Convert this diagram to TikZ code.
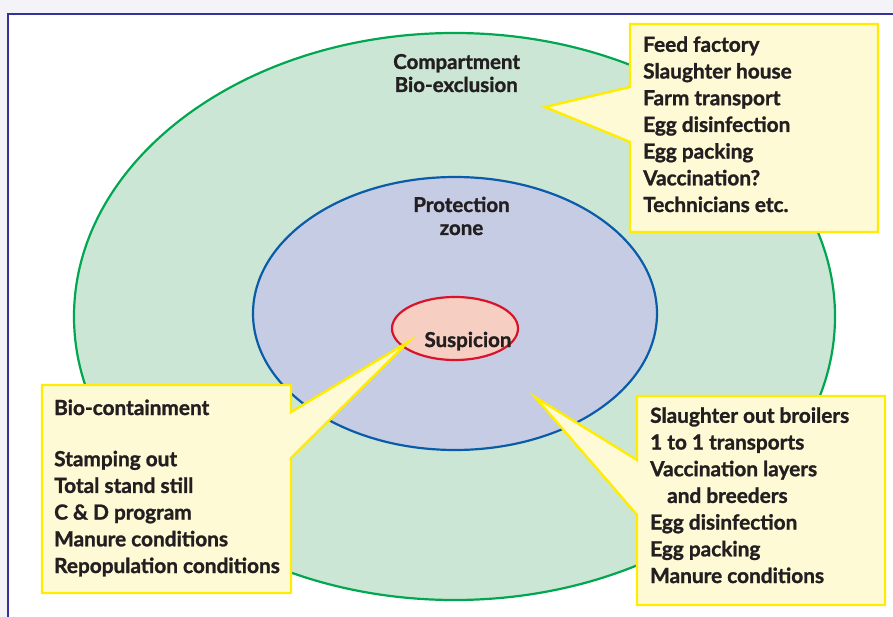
\documentclass[tikz,border=0pt]{standalone}
\usepackage{fontspec}
\setmainfont{Lato}[BoldFeatures={FakeBold=1.3}]
\usetikzlibrary{shapes.geometric}
\definecolor{pagebg}{HTML}{F3F3F8}
\definecolor{framecol}{HTML}{33339A}
\definecolor{outerfill}{HTML}{CCE6D5}
\definecolor{outerline}{HTML}{00A650}
\definecolor{midfill}{HTML}{C5CCE3}
\definecolor{midline}{HTML}{0A5CA8}
\definecolor{innerfill}{HTML}{F6CFC2}
\definecolor{innerline}{HTML}{D9142A}
\definecolor{callfill}{HTML}{FFFAD6}
\definecolor{callline}{HTML}{FFEC00}
\definecolor{txt}{HTML}{231F20}
\begin{document}
\begin{tikzpicture}[x=1pt,y=-1pt,
  zone/.style={ellipse,inner sep=0pt,line width=2.2pt},
  callout/.style={fill=callfill,draw=callline,line width=2.4pt,line join=miter},
  bodytext/.style={font=\bfseries\fontsize{20.8}{26.7}\selectfont,text=txt,align=left,inner sep=0pt,anchor=base west},
  title/.style={font=\bfseries\fontsize{20.5}{23}\selectfont,text=txt,inner sep=0pt,anchor=base}
]
\useasboundingbox (0,0) rectangle (893,617);
\fill[pagebg] (0,0) rectangle (893,617);
\fill[white] (7.8,13.8) rectangle (900,630);
\draw[framecol,line width=1.6pt] (7.8,640) -- (7.8,13.8) -- (920,13.8);

\node[zone,fill=outerfill,draw=outerline,minimum width=761pt,minimum height=567pt] (outer) at (454.5,316.5) {};
\node[zone,fill=midfill,draw=midline,minimum width=404pt,minimum height=273pt] (mid) at (455,313.5) {};
\node[zone,fill=innerfill,draw=innerline,minimum width=126pt,minimum height=63pt] (inner) at (455,328.5) {};

\node[title,align=left,anchor=base west] (comp) at (393,92) {Compartment\\\hspace*{1.5pt}Bio-exclusion};
\node[title,align=center] (prot) at (461.5,235) {Protection\\zone};
\node[title] (susp) at (468,347) {Suspicion};

% top right callout
\coordinate (trtip) at (545,107);
\draw[callout] (630,24) -- (878,24) -- (878,232) -- (630,232) -- (630,142) -- (trtip) -- (630,87) -- cycle;
\node[bodytext] (trtext) at (643,212) {Feed factory\\Slaughter house\\Farm transport\\Egg disinfection\\Egg packing\\Vaccination?\\Technicians etc.};

% bottom left callout
\coordinate (bltip) at (408,342);
\draw[callout] (42,385) -- (291,385) -- (291,412) -- (bltip) -- (291,458) -- (291,593) -- (42,593) -- cycle;
\node[bodytext] (bltext) at (54,573) {Bio-containment\\[24.5pt]Stamping out\\Total stand still\\C \& D program\\Manure conditions\\Repopulation conditions};

% bottom right callout
\coordinate (brtip) at (535,397);
\draw[callout] (637,396) -- (885,396) -- (885,605) -- (637,605) -- (637,515) -- (brtip) -- (637,460) -- cycle;
\node[bodytext] (brtext) at (650,583) {Slaughter out broilers\\1 to 1 transports\\Vaccination layers\\\hspace*{17pt}and breeders\\Egg disinfection\\Egg packing\\Manure conditions};
\end{tikzpicture}
\end{document}
